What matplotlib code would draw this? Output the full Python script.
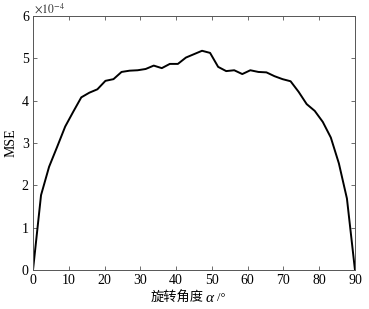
import matplotlib
matplotlib.use("Agg")
import matplotlib.pyplot as plt

plt.rcParams['font.family'] = ['Liberation Serif', 'Noto Sans CJK SC']
plt.rcParams['mathtext.fontset'] = 'stix'

# rotation angle (deg) and MSE (x 1e-4)
angles = [0, 2.25, 4.5, 6.75, 9, 11.25, 13.5, 15.75, 18, 20.25, 22.5,
          24.75, 27, 29.25, 31.5, 33.75, 36, 38.25, 40.5, 42.75, 45,
          47.25, 49.5, 51.75, 54, 56.25, 58.5, 60.75, 63, 65.25, 67.5,
          69.75, 72, 74.25, 76.5, 78.75, 81, 83.25, 85.5, 87.75, 90]
mse = [0, 1.77, 2.44, 2.91, 3.39, 3.74, 4.08, 4.19, 4.27, 4.47, 4.51,
       4.68, 4.71, 4.72, 4.75, 4.83, 4.77, 4.87, 4.87, 5.02, 5.10,
       5.18, 5.13, 4.80, 4.70, 4.72, 4.63, 4.72, 4.68, 4.67, 4.58,
       4.51, 4.46, 4.21, 3.92, 3.76, 3.50, 3.13, 2.52, 1.69, 0]

fig = plt.figure(figsize=(3.69, 3.09), dpi=100)
ax = fig.add_axes([0.0894, 0.126, 0.8726, 0.822])
ax.plot(angles, mse, color='black', linewidth=1.4)

ax.set_xlim(0, 90)
ax.set_ylim(0, 6)
ax.set_xticks(range(0, 91, 10))
ax.set_yticks(range(0, 7))
ax.tick_params(direction='in', top=True, right=True, length=3,
               labelsize=10, width=0.6, color='#555555', pad=3)
for s in ax.spines.values():
    s.set_linewidth(0.7)
    s.set_color('#555555')

ax.text(0.002, 1.003, r'$\times10^{-4}$', transform=ax.transAxes,
        fontsize=8.5, ha='left', va='bottom', color='#333333')
ax.set_ylabel('MSE', fontsize=10, labelpad=3)

# x label: Chinese text + italic alpha + unit
fig.text(204 / 369, 0.034, '旋转角度', fontsize=9.5, ha='right', va='center')
fig.text(206 / 369, 0.034, 'α', fontsize=11, style='italic',
         ha='left', va='center', family='Liberation Serif')
fig.text(217 / 369, 0.034, '/°', fontsize=9, ha='left', va='center',
         family='Liberation Serif')

fig.savefig('out.png', dpi=100)
